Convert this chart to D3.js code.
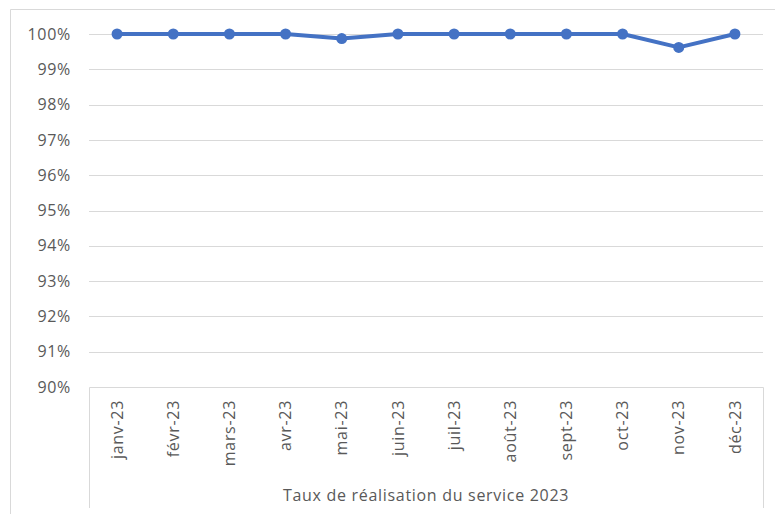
<!DOCTYPE html>
<html>
<head>
<meta charset="utf-8">
<script src="https://cdn.jsdelivr.net/npm/d3@7"></script>
<style>
  body { margin: 0; background: #fff; }
  text { font-family: "Open Sans", "Noto Sans", sans-serif; fill: #595959; font-size: 16px; letter-spacing: 0.7px; }
</style>
</head>
<body>
<svg id="chart" width="775" height="514"></svg>
<script>
const months = ["janv-23", "févr-23", "mars-23", "avr-23", "mai-23", "juin-23",
  "juil-23", "août-23", "sept-23", "oct-23", "nov-23", "déc-23"];
const rates = [1, 1, 1, 1, 0.9987, 1, 1, 1, 1, 1, 0.9962, 1];
const yTicks = [0.9, 0.91, 0.92, 0.93, 0.94, 0.95, 0.96, 0.97, 0.98, 0.99, 1];
const axisTitle = "Taux de réalisation du service 2023";

const svg = d3.select("#chart");
const plotLeft = 89, plotRight = 763, plotTop = 34, plotBottom = 387;

// chart frame (cropped on the right and bottom)
svg.append("path")
  .attr("d", "M10.5,514 V9.5 H775")
  .attr("fill", "none")
  .attr("stroke", "#d9d9d9");

const x = d3.scaleBand().domain(months).range([plotLeft, plotRight]);
const y = d3.scaleLinear().domain([0.9, 1]).range([plotBottom, plotTop]);

// gridlines
svg.append("g")
  .selectAll("line")
  .data(yTicks.slice(1))
  .enter()
  .append("line")
  .attr("x1", plotLeft)
  .attr("x2", plotRight)
  .attr("y1", d => Math.round(y(d)) + 0.5)
  .attr("y2", d => Math.round(y(d)) + 0.5)
  .attr("stroke", "#d9d9d9");

// y labels
svg.append("g")
  .selectAll("text")
  .data(yTicks)
  .enter()
  .append("text")
  .attr("x", 71)
  .attr("y", d => y(d))
  .attr("dy", "0.35em")
  .attr("text-anchor", "end")
  .text(d3.format(".0%"));

// category axis box
svg.append("path")
  .attr("d", `M${plotLeft + 0.5},508 V${plotBottom + 0.5} H${plotRight + 0.5} V508`)
  .attr("fill", "none")
  .attr("stroke", "#d9d9d9");

// month labels
svg.append("g")
  .selectAll("text")
  .data(months)
  .enter()
  .append("text")
  .attr("transform", d => `translate(${x(d) + x.bandwidth() / 2},400) rotate(-90)`)
  .attr("dy", "0.35em")
  .attr("text-anchor", "end")
  .text(d => d);

svg.append("text")
  .attr("x", (plotLeft + plotRight) / 2)
  .attr("y", 495)
  .attr("dy", "0.35em")
  .attr("text-anchor", "middle")
  .text(axisTitle);

// series
const line = d3.line()
  .x((d, i) => x(months[i]) + x.bandwidth() / 2)
  .y(d => y(d));

svg.append("path")
  .datum(rates)
  .attr("d", line)
  .attr("fill", "none")
  .attr("stroke", "#4472c4")
  .attr("stroke-width", 4)
  .attr("stroke-linejoin", "round");

svg.append("g")
  .selectAll("circle")
  .data(rates)
  .enter()
  .append("circle")
  .attr("cx", (d, i) => x(months[i]) + x.bandwidth() / 2)
  .attr("cy", d => y(d))
  .attr("r", 5.5)
  .attr("fill", "#4472c4");
</script>
</body>
</html>
